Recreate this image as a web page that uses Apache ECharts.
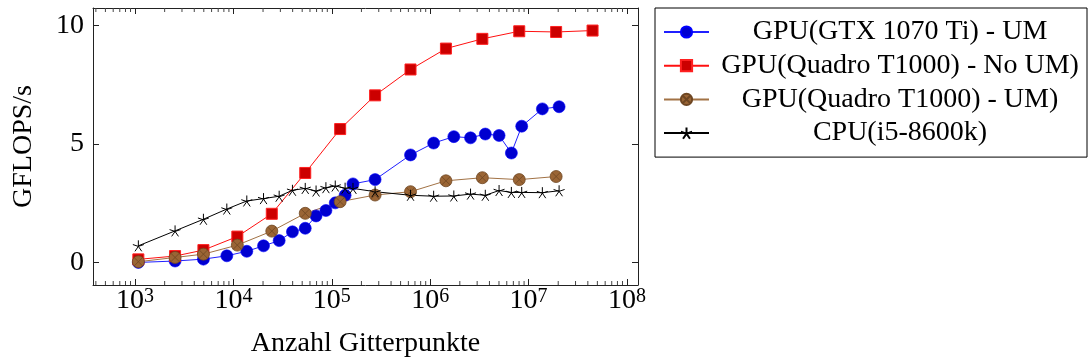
<!DOCTYPE html>
<html>
<head>
<meta charset="utf-8">
<script src="https://cdn.jsdelivr.net/npm/echarts@6/dist/echarts.min.js"></script>
<style>
html,body{margin:0;padding:0;background:#fff;}
#chart{width:1089px;height:363px;}
</style>
</head>
<body>
<div id="chart"></div>
<script>
// ---- data ----
const seriesNames = [
  'GPU(GTX 1070 Ti) - UM',
  'GPU(Quadro T1000) - No UM)',
  'GPU(Quadro T1000) - UM)',
  'CPU(i5-8600k)'
];
// grid sizes for GTX / CPU measurements
const xFine = [1081, 2553, 4955, 8570, 13680, 20230, 29170, 39810, 53700, 69180, 87100, 108400, 136500, 164100,
  275400, 631000, 1084000, 1738000, 2570000, 3631000, 5012000, 6683000, 8511000, 13800000, 20420000];
// grid sizes for Quadro measurements
const xCoarse = [1081, 2553, 4955, 10960, 24550, 53700, 121600, 275400, 631000, 1445000, 3388000, 8035000, 19050000, 44670000];

const gtxUM = [0.01, 0.07, 0.15, 0.29, 0.48, 0.71, 0.93, 1.30, 1.45, 1.97, 2.20, 2.52, 2.84, 3.32,
  3.50, 4.54, 5.04, 5.31, 5.26, 5.42, 5.36, 4.62, 5.75, 6.48, 6.57];
const quadroNoUM = [0.14, 0.28, 0.53, 1.10, 2.06, 3.78, 5.63, 7.05, 8.14, 9.02, 9.43, 9.75, 9.72, 9.78];
const quadroUM = [0.04, 0.22, 0.36, 0.74, 1.33, 2.08, 2.57, 2.85, 2.99, 3.45, 3.58, 3.50, 3.63];
const cpu = [0.71, 1.34, 1.83, 2.26, 2.60, 2.70, 2.80, 3.05, 3.13, 3.02, 3.16, 3.23, 3.14, 3.13,
  2.99, 2.84, 2.80, 2.81, 2.89, 2.84, 3.04, 2.96, 2.96, 2.95, 3.03];

const xMin = 374, xMax = 1.294e8;
const yMin = -0.94, yMax = 10.73;
const yTicks = [0, 5, 10];
const xLabelName = 'Anzahl Gitterpunkte';
const yLabelName = 'GFLOPS/s';

// minor tick positions (2..9 x 10^k)
const minorTicks = [];
for (let k = 2; k <= 8; k++) {
  for (let m = 2; m <= 9; m++) {
    const v = m * Math.pow(10, k);
    if (v > xMin && v < xMax) minorTicks.push([v, 0]);
  }
}

const zip = (xs, ys) => ys.map((y, i) => [xs[i], y]);

const FONT = 'Liberation Serif';
const FS = 28;
const starPath = 'path://M0,-5L0,0M4.755,-1.545L0,0M2.939,4.045L0,0M-2.939,4.045L0,0M-4.755,-1.545L0,0';
const otimesPath = 'path://M10,0A10,10,0,1,1,-10,0A10,10,0,1,1,10,0ZM-7.07,-7.07L7.07,7.07M-7.07,7.07L7.07,-7.07';

const chart = echarts.init(document.getElementById('chart'), null, {renderer: 'canvas'});

const frame = {show: true, onZero: false, lineStyle: {color: '#222', width: 1}};

const option = {
  animation: false,
  backgroundColor: '#fff',
  textStyle: {fontFamily: FONT, color: '#000'},
  grid: {left: 93, top: 8, width: 545, height: 279, containLabel: false},
  legend: {
    orient: 'vertical',
    left: 655, top: 8,
    padding: [10, 1, 10, 8],
    itemGap: 5.7,
    itemWidth: 45, itemHeight: 14,
    borderColor: '#000', borderWidth: 1,
    data: seriesNames,
    formatter: n => '{c|' + n + '}',
    textStyle: {
      fontFamily: FONT, fontSize: FS, color: '#000',
      rich: {c: {width: 372, align: 'center', fontFamily: FONT, fontSize: FS, lineHeight: FS}}
    }
  },
  xAxis: [{
    type: 'log', logBase: 10, min: xMin, max: xMax,
    position: 'bottom',
    name: xLabelName, nameLocation: 'middle', nameGap: 45,
    nameTextStyle: {fontFamily: FONT, fontSize: FS, color: '#000'},
    axisLine: frame,
    axisTick: {show: true, inside: true, length: 6, lineStyle: {color: '#222', width: 1}},
    splitLine: {show: false},
    minorTick: {show: false},
    axisLabel: {
      margin: 2, showMinLabel: false, showMaxLabel: false,
      fontFamily: FONT, color: '#000',
      formatter: v => {
        const l = Math.log10(v);
        const e = Math.round(l);
        if (Math.abs(l - e) > 1e-6) return '';
        return '{b|10}{s|' + e + '}';
      },
      rich: {
        b: {fontFamily: FONT, fontSize: FS, lineHeight: FS, padding: [7, 0, 0, 0], verticalAlign: 'bottom', color: '#000'},
        s: {fontFamily: FONT, fontSize: 20, lineHeight: 20, verticalAlign: 'top', color: '#000'}
      }
    }
  }, {
    type: 'log', logBase: 10, min: xMin, max: xMax,
    position: 'top',
    axisLine: frame,
    axisTick: {show: true, inside: true, length: 6, lineStyle: {color: '#222', width: 1}},
    axisLabel: {show: false},
    splitLine: {show: false}
  }],
  yAxis: [{
    type: 'value', min: yMin, max: yMax, splitNumber: 2,
    position: 'left',
    name: yLabelName, nameLocation: 'middle', nameGap: 55, nameRotate: 90,
    nameTextStyle: {fontFamily: FONT, fontSize: FS, color: '#000'},
    axisLine: frame,
    axisTick: {show: true, inside: true, length: 6, lineStyle: {color: '#222', width: 1}},
    splitLine: {show: false},
    axisLabel: {
      margin: 9, fontFamily: FONT, fontSize: FS, color: '#000',
      showMinLabel: false, showMaxLabel: false,
      formatter: v => (yTicks.some(t => Math.abs(t - v) < 1e-9) ? String(Math.round(v)) : '')
    }
  }, {
    type: 'value', min: yMin, max: yMax, splitNumber: 2,
    position: 'right',
    axisLine: frame,
    axisTick: {show: true, inside: true, length: 6, lineStyle: {color: '#222', width: 1}},
    splitLine: {show: false},
    axisLabel: {show: false}
  }],
  series: [
    {
      name: seriesNames[0], type: 'line', xAxisIndex: 0, yAxisIndex: 0,
      data: zip(xFine, gtxUM),
      symbol: 'circle', symbolSize: 12,
      lineStyle: {color: '#2020ff', width: 1},
      itemStyle: {color: '#0000d0', borderColor: '#0000ff', borderWidth: 0.6},
      emphasis: {disabled: true}
    },
    {
      name: seriesNames[1], type: 'line', xAxisIndex: 0, yAxisIndex: 0,
      data: zip(xCoarse, quadroNoUM),
      symbol: 'rect', symbolSize: 11,
      lineStyle: {color: '#ff1010', width: 1},
      itemStyle: {color: '#cc0000', borderColor: '#ff2020', borderWidth: 1},
      emphasis: {disabled: true}
    },
    {
      name: seriesNames[2], type: 'line', xAxisIndex: 0, yAxisIndex: 0,
      data: zip(xCoarse, quadroUM),
      symbol: otimesPath, symbolSize: 12,
      lineStyle: {color: '#a27245', width: 1},
      itemStyle: {color: '#9a6535', borderColor: '#6e4622', borderWidth: 0.8},
      emphasis: {disabled: true}
    },
    {
      name: seriesNames[3], type: 'line', xAxisIndex: 0, yAxisIndex: 0,
      data: zip(xFine, cpu),
      symbol: starPath, symbolSize: 11,
      lineStyle: {color: '#000', width: 1},
      itemStyle: {color: '#000', borderColor: '#000', borderWidth: 1},
      emphasis: {disabled: true}
    },
    {
      name: 'minorTicks', type: 'custom', xAxisIndex: 0, yAxisIndex: 0,
      silent: true, clip: false,
      data: minorTicks,
      renderItem: (params, api) => {
        const x = api.coord([api.value(0), 0])[0];
        const cs = params.coordSys;
        const b = cs.y + cs.height;
        return {
          type: 'group',
          children: [
            {type: 'line', shape: {x1: x, y1: b, x2: x, y2: b - 4}, style: {stroke: '#444', lineWidth: 1}},
            {type: 'line', shape: {x1: x, y1: cs.y, x2: x, y2: cs.y + 4}, style: {stroke: '#444', lineWidth: 1}}
          ]
        };
      }
    }
  ]
};
chart.setOption(option);
</script>
</body>
</html>
